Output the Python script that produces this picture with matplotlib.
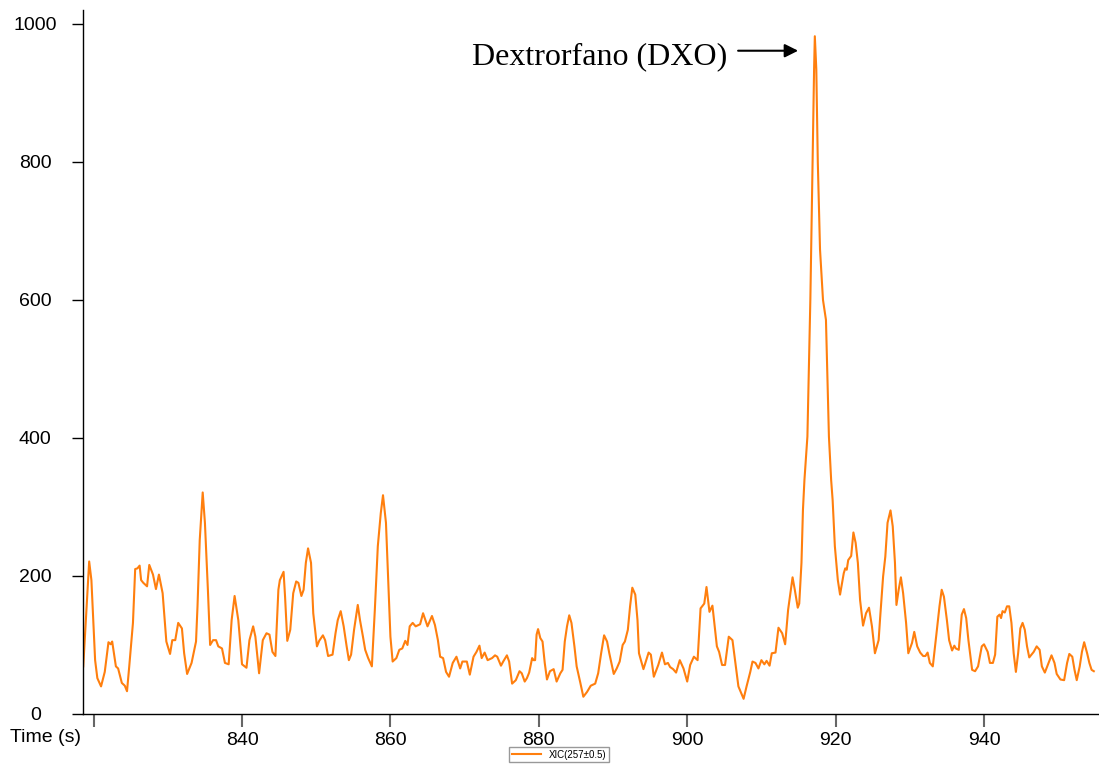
import matplotlib
matplotlib.use('Agg')
import matplotlib.pyplot as plt


time_s = [
    818.6, 819.4, 819.7, 820.2, 820.5, 821.0, 821.5, 822.0, 822.3, 822.5,
    823.0, 823.3, 823.8, 824.2, 824.5, 824.8, 825.3, 825.6, 825.9, 826.2,
    826.4, 826.7, 827.2, 827.5, 828.0, 828.4, 828.8, 829.3, 829.8, 830.3,
    830.6, 831.0, 831.4, 831.9, 832.2, 832.6, 833.2, 833.8, 834.0, 834.3,
    834.7, 835.0, 835.4, 835.7, 836.1, 836.5, 836.8, 837.3, 837.7, 838.2,
    838.6, 839.0, 839.5, 840.0, 840.6, 841.0, 841.5, 841.8, 842.3, 842.8,
    843.3, 843.7, 844.1, 844.5, 844.9, 845.1,
    845.6, 845.8, 846.1, 846.5, 846.9, 847.3, 847.6, 848.0, 848.3, 848.6,
    848.9, 849.3, 849.6, 850.1, 850.4, 850.9, 851.2, 851.6, 852.2, 852.6,
    852.9, 853.3, 853.7, 854.1, 854.4, 854.7, 855.1, 855.6, 855.9, 856.3,
    856.6, 857.0, 857.5, 857.9, 858.3, 858.7, 859.0, 859.4, 859.7, 860.0,
    860.3, 860.8, 861.2, 861.6, 862.0, 862.3, 862.6, 863.0, 863.4, 864.0,
    864.4, 865.0, 865.6, 866.0, 866.4, 866.7, 867.1, 867.5, 867.9, 868.4,
    868.9, 869.4, 869.7, 870.3, 870.7, 871.2, 871.6, 872.0,
    872.3, 872.7, 873.1, 873.7, 874.1, 874.4, 874.9, 875.2, 875.7, 876.0,
    876.4, 876.9, 877.4, 877.7, 878.1, 878.4, 878.7, 879.1, 879.3, 879.5,
    879.7, 879.9, 880.2, 880.5, 880.8, 881.1, 881.5, 882.0, 882.4, 882.9,
    883.2, 883.5, 883.8, 884.1, 884.4, 884.8, 885.1, 885.6, 886.0, 886.5,
    887.0, 887.6, 888.0, 888.4, 888.8, 889.2, 889.5, 890.1, 890.5, 890.9,
    891.3, 891.6, 892.0, 892.3, 892.6, 893.0, 893.3, 893.5, 894.1, 894.8,
    895.1, 895.5, 896.1, 896.6, 897.0, 897.4, 897.7, 898.1, 898.5, 899.0,
    899.5, 900.0, 900.4, 900.9, 901.4, 901.8, 902.3, 902.6, 903.0, 903.4,
    904.0, 904.3, 904.7, 905.1, 905.6, 906.1, 906.5, 906.9, 907.6, 908.0,
    908.5, 908.8, 909.2, 909.6, 910.0, 910.4, 910.7, 911.1, 911.4, 911.9,
    912.3, 912.8, 913.2, 913.6, 914.2, 914.5, 914.9, 915.1, 915.4, 915.6,
    915.8, 916.2, 916.6, 916.9, 917.1, 917.2, 917.4, 917.6, 917.9, 918.3,
    918.7, 919.1, 919.4, 919.6, 919.9, 920.3, 920.6, 921.1, 921.3, 921.5,
    921.7, 922.1, 922.4, 922.7, 923.0, 923.3, 923.7, 924.1, 924.5, 924.9,
    925.3, 925.8, 926.0,
    926.4, 926.7, 927.0, 927.4, 927.7, 928.0, 928.2, 928.5, 928.8, 929.1,
    929.5, 929.8, 930.3, 930.6, 931.0, 931.4, 931.8, 932.1, 932.4, 932.7,
    933.1, 933.3, 933.6, 934.0, 934.3, 934.6, 935.0, 935.3, 935.7, 936.0,
    936.2, 936.6, 937.0, 937.3, 937.6, 937.9, 938.4, 938.8, 939.2, 939.7,
    940.0, 940.5, 940.8, 941.2, 941.5, 941.8, 942.1, 942.3, 942.5, 942.8,
    943.1, 943.4, 943.7, 944.0, 944.3, 944.6, 944.9, 945.2, 945.5, 945.8,
    946.1, 946.7, 947.1, 947.5, 947.8, 948.2, 948.7, 949.1, 949.5, 949.8,
    950.3, 950.8, 951.2, 951.5, 951.9, 952.2, 952.5, 952.9, 953.2, 953.5,
    953.9, 954.2, 954.5, 954.8,
]

intensity = [
    69, 221, 194, 78, 52, 40, 61, 104, 101, 105,
    69, 66, 45, 41, 33, 69, 132, 210, 211, 215,
    194, 190, 185, 216, 202, 181, 202, 175, 105, 87,
    107, 107, 132, 124, 88, 58, 74, 105, 156, 252,
    321, 277, 180, 100, 107, 107, 98, 95, 74, 72,
    136, 171, 136, 72, 67, 107, 127, 112, 59, 107,
    117, 115, 90, 84, 180, 194,
    206, 170, 106, 122, 175, 192, 190, 171, 180, 219,
    240, 219, 146, 98, 106, 114, 107, 84, 86, 117,
    136, 149, 127, 98, 78, 86, 122, 158, 136, 112,
    93, 81, 69, 151, 243, 291, 317, 277, 194, 112,
    76, 81, 93, 95, 106, 100, 127, 132, 127, 130,
    146, 127, 142, 129, 107, 83, 81, 61, 54, 74,
    83, 66, 76, 76, 57, 83, 90, 99,
    81, 89, 78, 81, 85, 83, 70, 76, 85, 76,
    44, 49, 62, 59, 47, 52, 60, 81, 78, 78,
    115, 123, 110, 105, 74, 50, 62, 65, 47, 59,
    64, 105, 127, 143, 132, 98, 69, 45, 25, 32,
    41, 44, 59, 88, 114, 105, 88, 58, 66, 76,
    100, 105, 122, 156, 183, 173, 136, 88, 65, 89,
    86, 54, 71, 89, 72, 74, 68, 65, 60, 78,
    66, 47, 71, 83, 78, 153, 160, 184, 148, 157,
    98, 90, 71, 71, 112, 107, 74, 40, 22, 40,
    61, 76, 74, 66, 78, 72, 77, 70, 88, 89,
    125, 117, 101, 151, 198, 180, 154, 160, 219, 296,
    339, 402, 602, 800, 934, 982, 934, 800, 673, 600,
    571, 402, 339, 310, 243, 194, 173, 204, 211, 209,
    223, 229, 263, 248, 219, 165, 128, 146, 154, 127,
    88, 107, 139,
    199, 228, 277, 295, 272, 219, 158, 180, 198, 175,
    132, 88, 103, 119, 98, 89, 84, 84, 89, 74,
    69, 88, 117, 156, 180, 170, 136, 107, 92, 99,
    95, 93, 144, 152, 139, 107, 64, 62, 69, 98,
    101, 90, 74, 74, 86, 141, 144, 139, 149, 147,
    156, 156, 132, 88, 61, 88, 124, 132, 122, 98,
    82, 90, 98, 93, 69, 60, 74, 85, 74, 58,
    50, 49, 74, 87, 83, 64, 49, 69, 90, 104,
    88, 74, 64, 62,
]

x_ticks = [820, 840, 860, 880, 900, 920, 940]
x_tick_labels = ['', '840', '860', '880', '900', '920', '940']
y_ticks = [0, 200, 400, 600, 800, 1000]

series_label = 'XIC(257\u00b10.5)'
peak_label = 'Dextrorfano (DXO)'


def main():
    plt.rcParams['font.family'] = ['Liberation Sans', 'DejaVu Sans']

    fig = plt.figure(figsize=(10.99, 7.65), dpi=100)
    ax = fig.add_axes([82.5 / 1099, 1 - 714 / 765, 1 - 82.5 / 1099, 704 / 765])

    line, = ax.plot(time_s, intensity, color='#ff7f0e', linewidth=1.5,
                    solid_joinstyle='round', label=series_label)

    ax.set_xlim(818.5, 955.5)
    ax.set_ylim(0, 1020)

    for side in ['top', 'right']:
        ax.spines[side].set_visible(False)
    ax.spines['left'].set_linewidth(1.0)
    ax.spines['bottom'].set_linewidth(1.0)

    ax.set_xticks(x_ticks)
    ax.set_xticklabels(x_tick_labels)
    ax.set_yticks(y_ticks)
    ax.set_yticklabels([str(v) for v in y_ticks])

    ax.tick_params(axis='x', length=9, width=1.5, color='#666666',
                   labelsize=14, pad=4)
    ax.tick_params(axis='y', length=8, width=1, color='black',
                   labelsize=14, pad=26)
    for lbl in ax.get_yticklabels():
        lbl.set_horizontalalignment('center')

    fig.text(46 / 1099, 1 - 728.6 / 765, 'Time (s)', ha='center', va='top',
             fontsize=14)

    ax.legend(handles=[line], loc='center',
              bbox_to_anchor=(559 / 1099, 1 - 754.5 / 765),
              bbox_transform=fig.transFigure, fontsize=7, frameon=True,
              fancybox=False, edgecolor='#999999', framealpha=1,
              handlelength=3, borderpad=0.3, borderaxespad=0)

    fig.text(472 / 1099, 1 - 57 / 765, peak_label, ha='left', va='center',
             fontsize=23, family=['Liberation Serif', 'DejaVu Serif'])
    ax.annotate('', xy=(914.95, 961), xytext=(906.86, 961),
                arrowprops=dict(arrowstyle='-|>', color='black', lw=1.5,
                                mutation_scale=20, shrinkA=0, shrinkB=0))

    fig.savefig('out.png', dpi=100)


if __name__ == '__main__':
    main()
